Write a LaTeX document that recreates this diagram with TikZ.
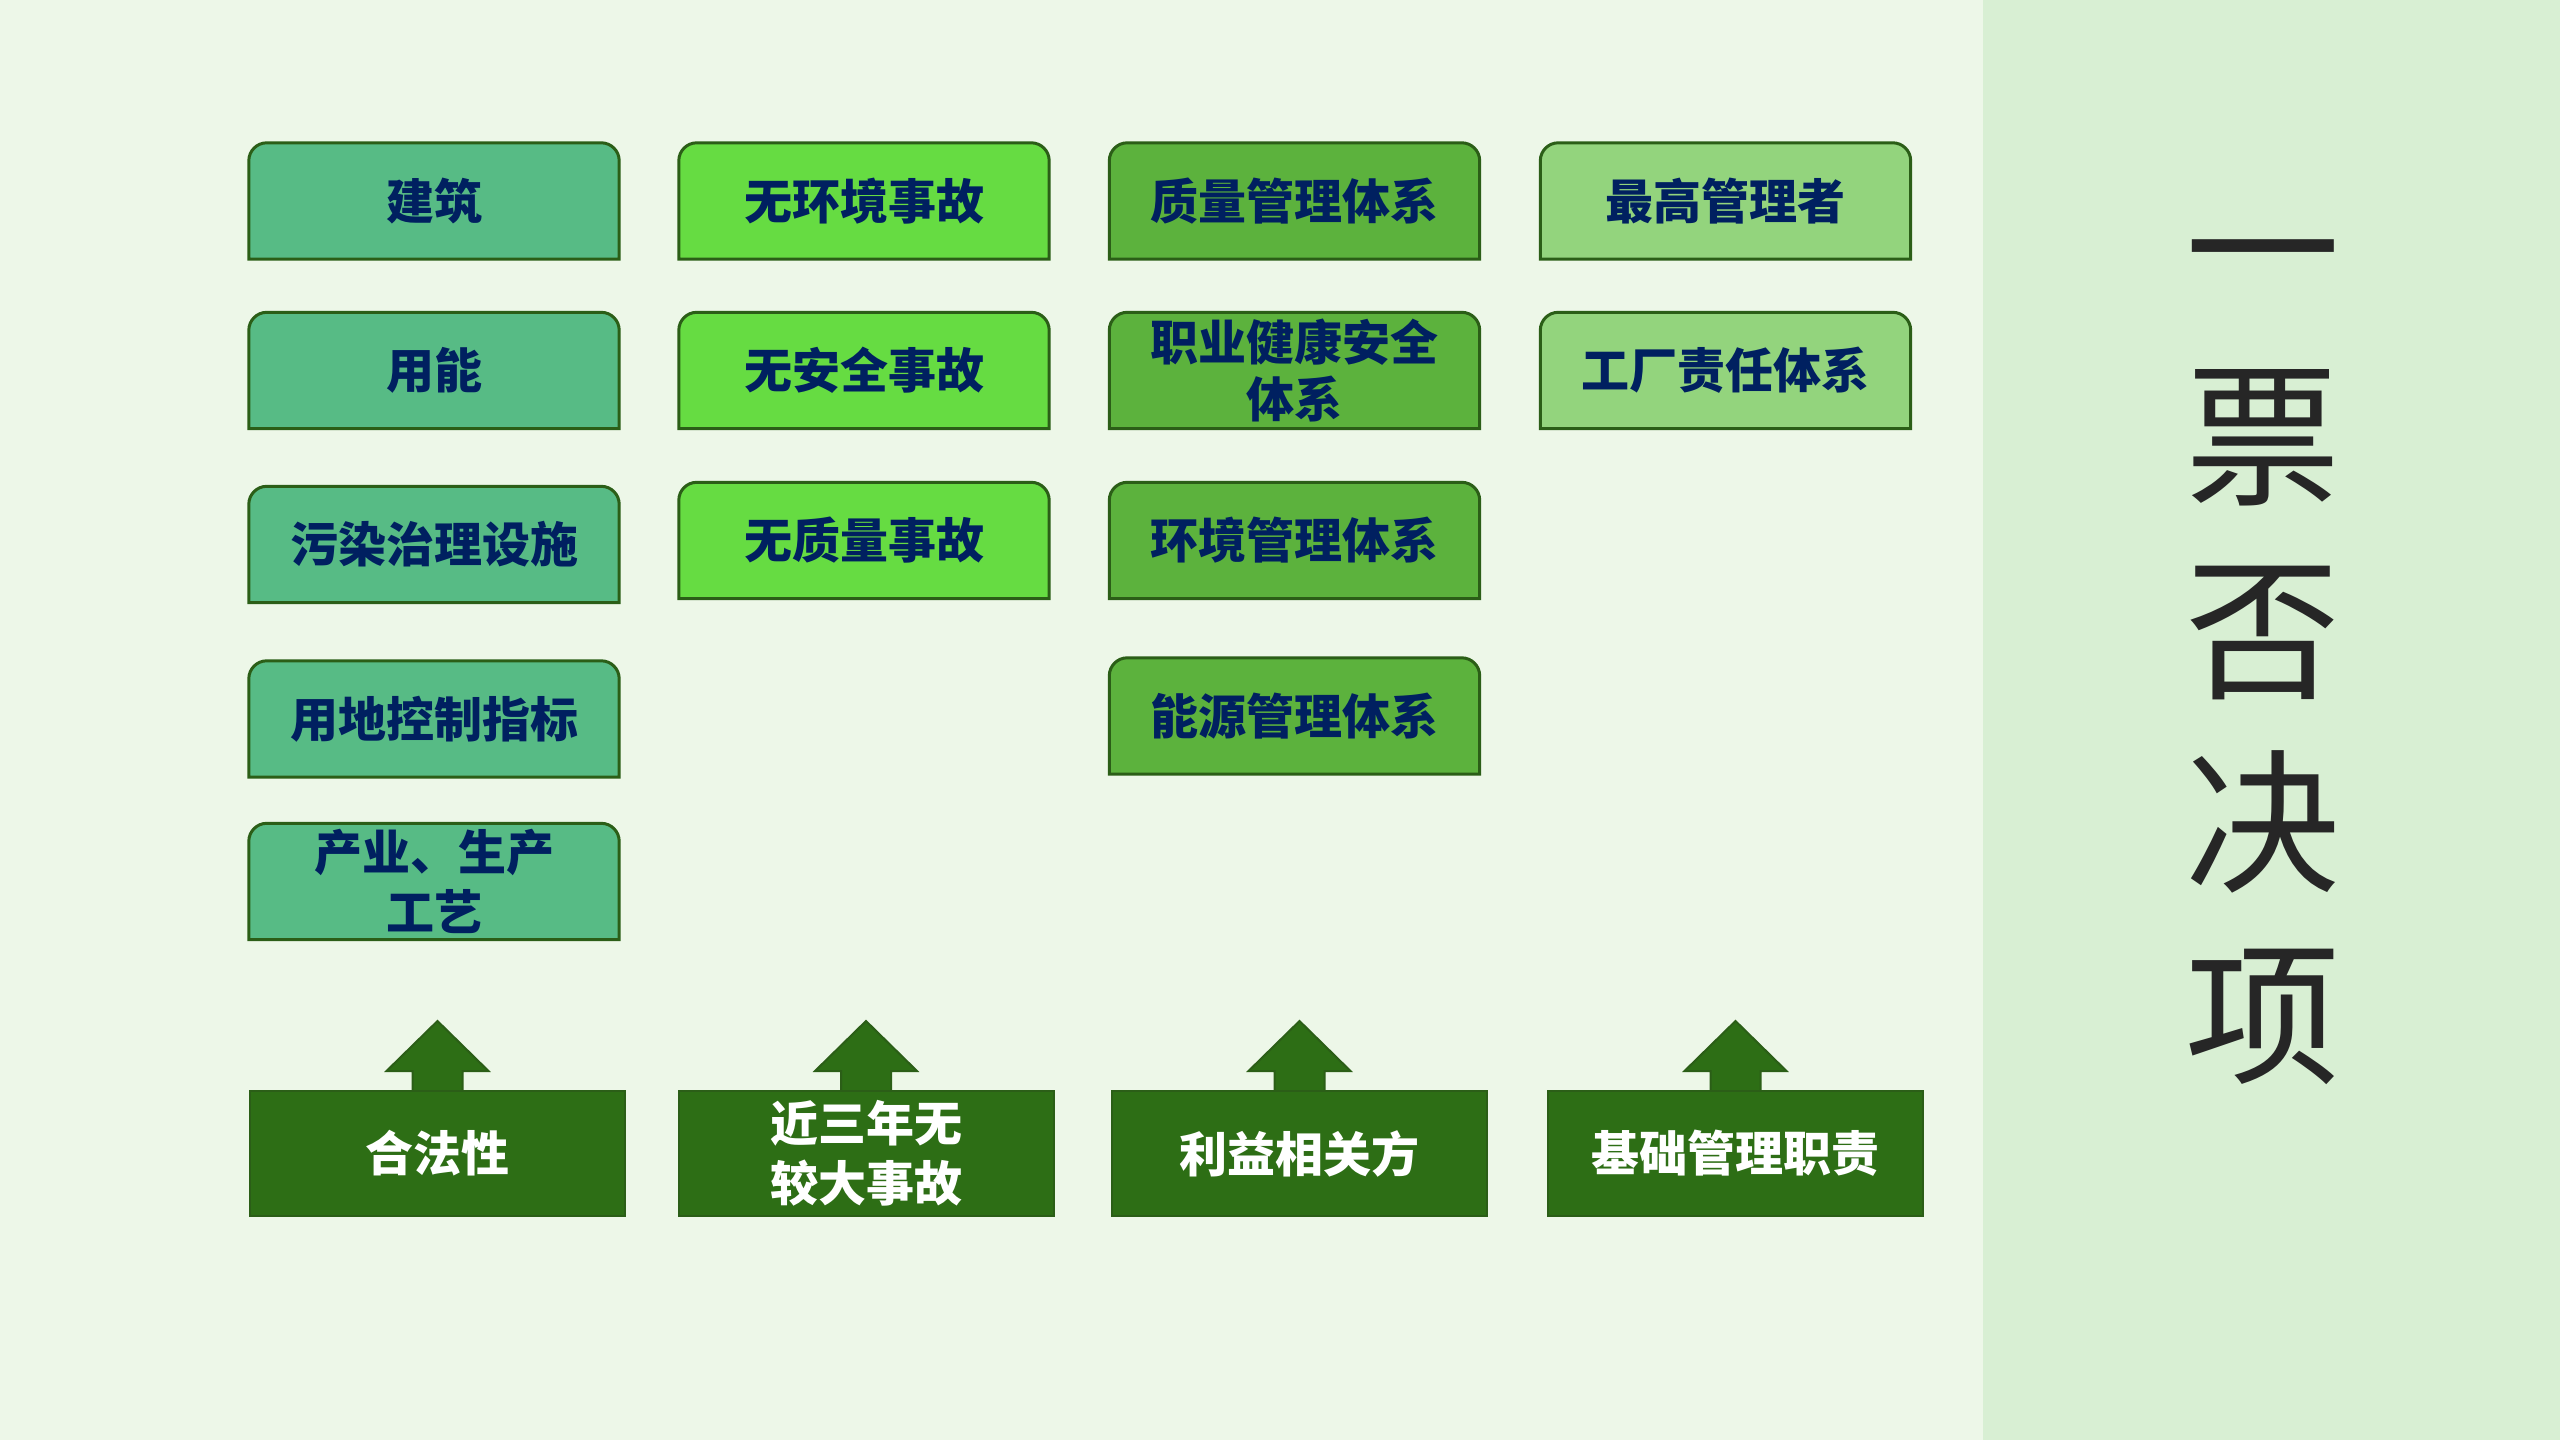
\documentclass[tikz,border=0pt]{standalone}
\usepackage{fontspec}
\setmainfont{Noto Sans CJK SC}
\usetikzlibrary{backgrounds,calc}
\definecolor{bgmain}{HTML}{EDF7E8}
\definecolor{bgpanel}{HTML}{D8EFD3}
\definecolor{colA}{HTML}{57BB85}
\definecolor{colB}{HTML}{66DC42}
\definecolor{colC}{HTML}{5CB23D}
\definecolor{colD}{HTML}{93D47D}
\definecolor{edgegreen}{HTML}{2B5E17}
\definecolor{basegreen}{HTML}{2D6E15}
\definecolor{navytext}{HTML}{002060}
\definecolor{vtext}{HTML}{262626}
\tikzset{
  topbox/.style={minimum width=370pt, minimum height=116pt, inner sep=0pt, align=center,
    text=navytext, font=\fontsize{48}{57}\selectfont\bfseries},
  topshape/.style={draw=edgegreen, line width=3pt},
  basebox/.style={minimum width=375pt, minimum height=125pt, inner sep=0pt, align=center,
    fill=basegreen, draw=edgegreen, line width=2pt, text=white,
    font=\fontsize{48}{60}\selectfont\bfseries},
  uparrow/.style={fill=basegreen, draw=edgegreen, line width=2pt},
  vchar/.style={inner sep=0pt, text=vtext, font=\fontsize{155}{180}\selectfont}
}
\begin{document}
\begin{tikzpicture}[x=1pt,y=-1pt]
\useasboundingbox (0,0) rectangle (2560,1440);
% top boxes
\node[topbox] (a1) at (434,201) {建筑};
\node[topbox] (a2) at (434,370.5) {用能};
\node[topbox] (a3) at (434,544.5) {污染治理设施};
\node[topbox] (a4) at (434,719) {用地控制指标};
\node[topbox, font=\fontsize{48}{60}\selectfont\bfseries] (a5) at (434,881.5) {产业、生产\\工艺};
\node[topbox] (b1) at (864,201) {无环境事故};
\node[topbox] (b2) at (864,370.5) {无安全事故};
\node[topbox] (b3) at (864,540.5) {无质量事故};
\node[topbox] (c1) at (1294.5,201) {质量管理体系};
\node[topbox] (c2) at (1294.5,370.5) {职业健康安全\\体系};
\node[topbox] (c3) at (1294.5,540.5) {环境管理体系};
\node[topbox] (c4) at (1294.5,716) {能源管理体系};
\node[topbox] (d1) at (1725.5,201) {最高管理者};
\node[topbox] (d2) at (1725.5,370.5) {工厂责任体系};
% base boxes
\node[basebox] (p1) at (437.5,1153.5) {合法性};
\node[basebox] (p2) at (866,1153.5) {近三年无\\较大事故};
\node[basebox] (p3) at (1299.5,1153.5) {利益相关方};
\node[basebox] (p4) at (1735.5,1153.5) {基础管理职责};
% vertical title
\node[vchar] (v1) at (2263,273) {一};
\node[vchar] (v2) at (2263,438) {票};
\node[vchar] (v3) at (2263,633) {否};
\node[vchar] (v4) at (2263,822) {决};
\node[vchar] (v5) at (2263,1017) {项};
\begin{scope}[on background layer]
  \fill[bgmain] (0,0) rectangle (2560,1440);
  \fill[bgpanel] (1983,0) rectangle (2560,1440);
  \foreach \n/\c in {a1/colA,a2/colA,a3/colA,a4/colA,a5/colA,b1/colB,b2/colB,b3/colB,c1/colC,c2/colC,c3/colC,c4/colC,d1/colD,d2/colD}{
    \draw[topshape, fill=\c] (\n.south west) [rounded corners=18pt] -- (\n.north west) -- (\n.north east) [sharp corners] -- (\n.south east) -- cycle;
  }
  \foreach \n in {p1,p2,p3,p4}{
    \draw[uparrow] ($(\n.north)+(-25,3)$) -- ($(\n.north)+(-25,-19)$) -- ($(\n.north)+(-51,-19)$) -- ($(\n.north)+(0,-69)$) -- ($(\n.north)+(51,-19)$) -- ($(\n.north)+(25,-19)$) -- ($(\n.north)+(25,3)$) -- cycle;
  }
\end{scope}
\end{tikzpicture}
\end{document}
